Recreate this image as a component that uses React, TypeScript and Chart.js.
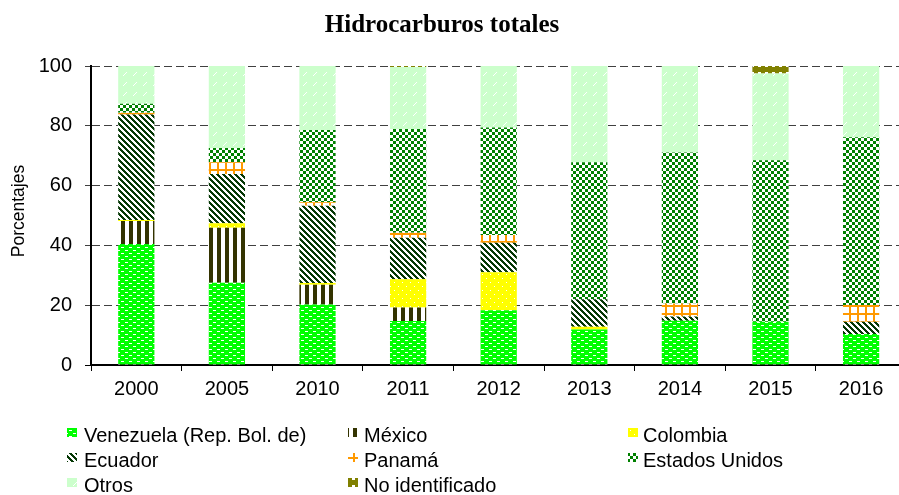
import React, { useEffect, useRef } from "react";
import { Chart, registerables } from "chart.js";

Chart.register(...registerables);

const TITLE = "Hidrocarburos totales";
const Y_TITLE = "Porcentajes";
const categories = ["2000", "2005", "2010", "2011", "2012", "2013", "2014", "2015", "2016"];

const venezuela = [40.5, 27.5, 20.2, 14.7, 18.3, 11.9, 14.8, 14.5, 10.4];
const mexico = [7.7, 18.4, 6.6, 4.5, 0, 0, 0, 0, 0];
const colombia = [0.3, 1.5, 0.6, 9.5, 12.7, 0.9, 0, 0, 0];
const ecuador = [35.3, 16.5, 25.9, 13.9, 9.9, 9.2, 1.4, 0, 4.1];
const panama = [0.6, 3.9, 1.1, 1.6, 2.6, 0, 4.4, 0, 5.6];
const estadosUnidos = [3.0, 4.8, 24.2, 34.7, 35.9, 45.8, 50.5, 54.0, 56.1];
const otros = [12.6, 27.4, 21.4, 20.8, 20.6, 32.2, 28.9, 29.0, 23.8];
const noIdentificado = [0, 0, 0, 0.3, 0, 0, 0, 2.5, 0];

const seriesNames = [
  "Venezuela (Rep. Bol. de)",
  "México",
  "Colombia",
  "Ecuador",
  "Panamá",
  "Estados Unidos",
  "Otros",
  "No identificado",
];

const yTicks = [0, 20, 40, 60, 80, 100];

function makePattern(w: number, h: number, draw: (c: CanvasRenderingContext2D) => void): CanvasPattern | string {
  const cv = document.createElement("canvas");
  cv.width = w;
  cv.height = h;
  const c = cv.getContext("2d")!;
  draw(c);
  const main = document.createElement("canvas").getContext("2d")!;
  return main.createPattern(cv, "repeat") || "#888";
}

function buildPatterns() {
  const ven = makePattern(8, 6, (c) => {
    c.fillStyle = "#00FF00";
    c.fillRect(0, 0, 8, 6);
    c.fillStyle = "#FFFFFF";
    c.fillRect(1, 1, 3, 1);
    c.fillRect(5, 4, 3, 1);
  });
  const mex = makePattern(8, 1, (c) => {
    c.fillStyle = "#FFFFFF";
    c.fillRect(0, 0, 8, 1);
    c.fillStyle = "#333300";
    c.fillRect(1, 0, 4, 1);
  });
  const col = makePattern(8, 8, (c) => {
    c.fillStyle = "#FFFF00";
    c.fillRect(0, 0, 8, 8);
    c.fillStyle = "#FFFFFF";
    c.fillRect(2, 2, 1, 1);
    c.fillRect(6, 6, 1, 1);
  });
  const ecu = makePattern(6, 6, (c) => {
    c.fillStyle = "#FFFFFF";
    c.fillRect(0, 0, 6, 6);
    c.fillStyle = "#053805";
    for (let y = 0; y < 6; y++) {
      for (let k = 0; k < 3; k++) {
        c.fillRect((y + k) % 6, y, 1, 1);
      }
    }
  });
  const pan = makePattern(8, 8, (c) => {
    c.fillStyle = "#FFFFFF";
    c.fillRect(0, 0, 8, 8);
    c.fillStyle = "#FF9900";
    c.fillRect(1, 0, 2, 8);
    c.fillRect(0, 1, 8, 2);
  });
  const eu = makePattern(6, 6, (c) => {
    c.fillStyle = "#FFFFFF";
    c.fillRect(0, 0, 6, 6);
    c.fillStyle = "#008000";
    c.fillRect(0, 0, 3, 3);
    c.fillRect(3, 3, 3, 3);
  });
  const otr = makePattern(10, 10, (c) => {
    c.fillStyle = "#CCFFCC";
    c.fillRect(0, 0, 10, 10);
    c.fillStyle = "#FFFFFF";
    c.fillRect(6, 2, 1, 1);
    c.fillRect(5, 3, 1, 1);
    c.fillRect(4, 4, 1, 1);
    c.fillRect(3, 5, 1, 1);
  });
  const noid = makePattern(7, 7, (c) => {
    c.fillStyle = "#808000";
    c.fillRect(0, 0, 7, 7);
    c.fillStyle = "#FFFFFF";
    c.fillRect(2, 2, 3, 2);
  });
  return [ven, mex, col, ecu, pan, eu, otr, noid];
}

const titleLegendPlugin = {
  id: "titleLegend",
  afterDraw(chart: any) {
    const ctx: CanvasRenderingContext2D = chart.ctx;
    ctx.save();
    ctx.fillStyle = "#000";
    ctx.font = 'bold 25px "Liberation Serif", "Times New Roman", serif';
    ctx.textAlign = "center";
    ctx.textBaseline = "alphabetic";
    ctx.fillText(TITLE, 442, 32);

    ctx.save();
    ctx.translate(19.5, 211);
    ctx.rotate(-Math.PI / 2);
    ctx.font = '17.5px "Liberation Sans", Arial, sans-serif';
    ctx.textAlign = "center";
    ctx.textBaseline = "middle";
    ctx.fillText(Y_TITLE, 0, 0);
    ctx.restore();

    const colMarker = [67, 348, 628];
    const colText = [84, 364, 643];
    ctx.font = '20px "Liberation Sans", Arial, sans-serif';
    ctx.textAlign = "left";
    ctx.textBaseline = "alphabetic";
    chart.data.datasets.forEach((ds: any, i: number) => {
      const col = i % 3;
      const row = Math.floor(i / 3);
      const base = 442 + row * 25;
      ctx.fillStyle = ds.backgroundColor;
      ctx.fillRect(colMarker[col], base - 14, 10, 9);
      ctx.fillStyle = "#000";
      ctx.fillText(ds.label, colText[col], base);
    });
    ctx.restore();
  },
};

export default function App() {
  const ref = useRef<HTMLCanvasElement>(null);

  useEffect(() => {
    document.body.style.margin = "0";
    if (!ref.current) return;
    const pats = buildPatterns();
    const values = [venezuela, mexico, colombia, ecuador, panama, estadosUnidos, otros, noIdentificado];
    const chart = new Chart(ref.current, {
      type: "bar",
      data: {
        labels: categories,
        datasets: values.map((v, i) => ({
          label: seriesNames[i],
          data: v,
          backgroundColor: pats[i] as any,
          borderWidth: 0,
          categoryPercentage: 1,
          barPercentage: 0.4,
        })),
      },
      options: {
        animation: false,
        responsive: false,
        devicePixelRatio: 1,
        layout: { padding: { top: 66, right: 13.6, bottom: 0, left: 0 } },
        plugins: {
          legend: { display: false },
          title: { display: false },
          tooltip: { enabled: false },
        },
        scales: {
          x: {
            stacked: true,
            offset: true,
            afterFit: (s: any) => {
              s.height = 130;
            },
            grid: {
              display: true,
              drawOnChartArea: false,
              drawTicks: true,
              tickLength: 6,
              tickColor: "#000",
              color: "#000",
              offset: true,
            },
            border: { display: true, color: "#000", width: 2 },
            ticks: {
              color: "#000",
              font: { family: '"Liberation Sans", Arial, sans-serif', size: 20 },
              padding: 6,
              autoSkip: false,
              maxRotation: 0,
            },
          },
          y: {
            stacked: true,
            min: 0,
            max: 100,
            afterFit: (s: any) => {
              s.width = 91;
            },
            afterBuildTicks: (s: any) => {
              s.ticks = yTicks.map((v) => ({ value: v }));
            },
            grid: {
              color: (c: any) => (c.tick && c.tick.value === 0 ? "rgba(0,0,0,0)" : "#404040"),
              tickColor: (c: any) => (c.tick && c.tick.value === 0 ? "#000" : "#404040"),
              lineWidth: 1,
              tickLength: 6,
            },
            border: { display: true, color: "#000", width: 2, dash: [8, 4] },
            ticks: {
              color: "#000",
              font: { family: '"Liberation Sans", Arial, sans-serif', size: 20 },
              padding: 13,
            },
            title: { display: false },
          },
        },
      },
      plugins: [titleLegendPlugin],
    });
    return () => chart.destroy();
  }, []);

  return (
    <div style={{ width: 899, height: 495, overflow: "hidden", position: "relative", background: "#fff" }}>
      <canvas ref={ref} width={920} height={495} style={{ display: "block" }} />
    </div>
  );
}
